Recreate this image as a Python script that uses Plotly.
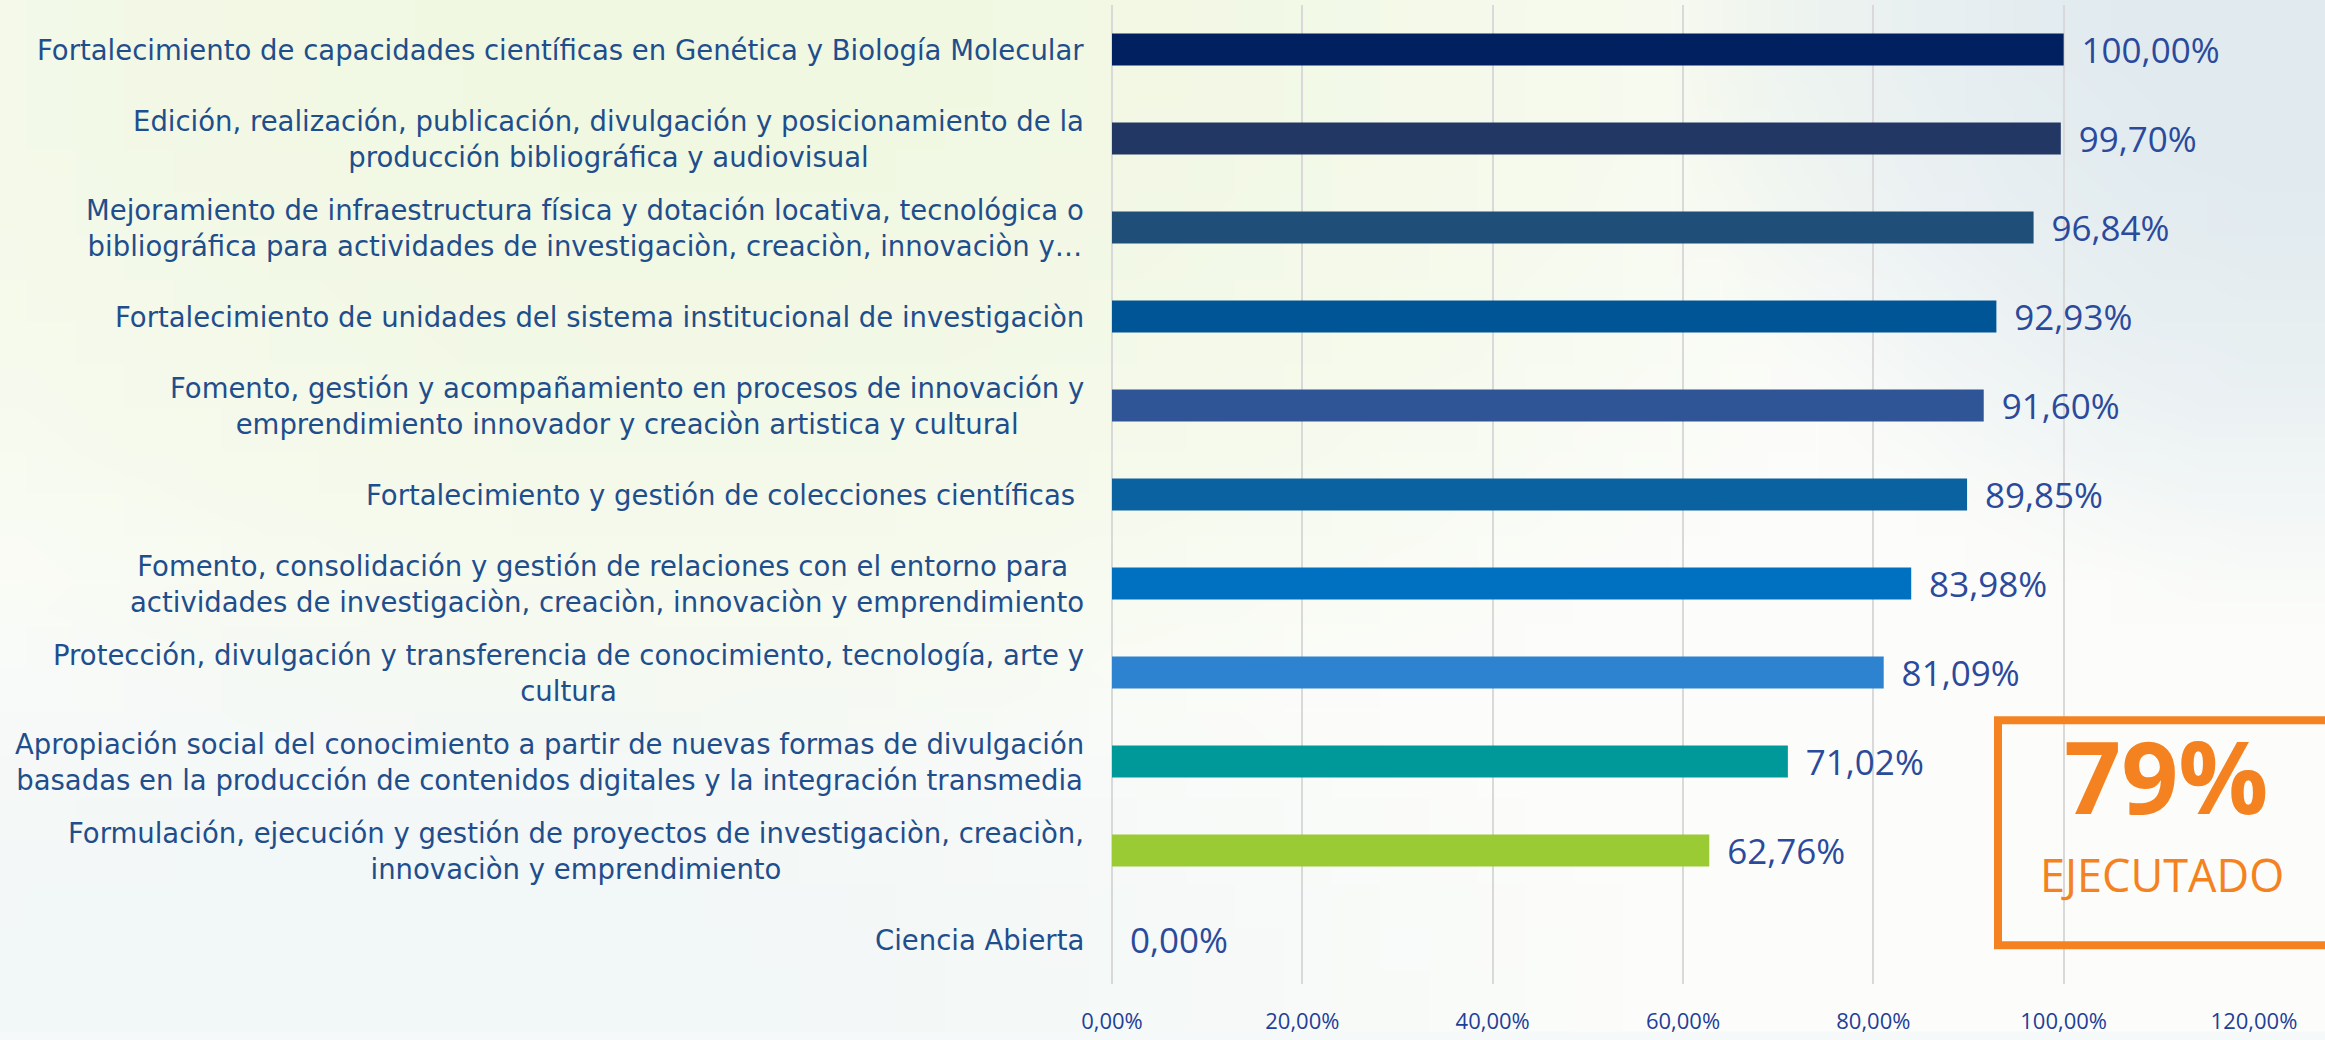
import base64, struct, zlib
import plotly.graph_objects as go

categories = [
    "Fortalecimiento de capacidades científicas en Genética y Biología Molecular",
    "Edición, realización, publicación, divulgación y posicionamiento de la<br>producción bibliográfica y audiovisual",
    "Mejoramiento de infraestructura física y dotación locativa, tecnológica o<br>bibliográfica para actividades de investigaciòn, creaciòn, innovaciòn y…",
    "Fortalecimiento de unidades del sistema institucional de investigaciòn",
    "Fomento, gestión y acompañamiento en procesos de innovación y<br>emprendimiento innovador y creaciòn artistica y cultural",
    "Fortalecimiento y gestión de colecciones científicas ",
    "Fomento, consolidación y gestión de relaciones con el entorno para <br>actividades de investigaciòn, creaciòn, innovaciòn y emprendimiento",
    "Protección, divulgación y transferencia de conocimiento, tecnología, arte y<br>cultura",
    "Apropiación social del conocimiento a partir de nuevas formas de divulgación<br>basadas en la producción de contenidos digitales y la integración transmedia",
    "Formulación, ejecución y gestión de proyectos de investigaciòn, creaciòn,<br>innovaciòn y emprendimiento",
    "Ciencia Abierta",
]
values = [1.0, 0.9970, 0.9684, 0.9293, 0.9160, 0.8985, 0.8398, 0.8109, 0.7102, 0.6276, 0.0]
bar_colors = ["#002060", "#223764", "#1F4E79", "#005596", "#2F5597", "#0B62A0",
              "#0070C0", "#2E83D0", "#009999", "#9ACA34", "#9ACA34"]
tick_vals = [0, 0.2, 0.4, 0.6, 0.8, 1.0, 1.2]
total_value = "79%"
total_label = "EJECUTADO"

W, H = 2325, 1040
ML, MR, MT, MB = 1112, 71, 5, 48
PW, PH = W - ML - MR, H - MT - MB


def px_x(p):
    return (p - ML) / PW


def px_y(p):
    return (MT + PH - p) / PH


def make_png(w, h, fn):
    raw = b""
    for j in range(h):
        row = bytearray([0])
        for i in range(w):
            row += bytes(fn(i / (w - 1), j / (h - 1)))
        raw += bytes(row)

    def chunk(t, d):
        c = struct.pack(">I", len(d)) + t + d
        return c + struct.pack(">I", zlib.crc32(t + d) & 0xffffffff)

    return (b"\x89PNG\r\n\x1a\n" + chunk(b"IHDR", struct.pack(">IIBBBBB", w, h, 8, 2, 0, 0, 0))
            + chunk(b"IDAT", zlib.compress(raw, 9)) + chunk(b"IEND", b""))


def bg(u, v):
    r, g, b = 252.0, 253.0, 250.0
    t = max(0.0, 1 - ((u - 0.3) ** 2 / 0.3 + v ** 2 / 0.6))
    r, g, b = r - 11 * t, g - 5 * t, b - 24 * t
    t2 = max(0.0, 1 - ((u - 1.0) ** 2 / 0.08 + v ** 2 / 0.35))
    r, g, b = r - 28 * t2, g - 19 * t2, b - 11 * t2
    t3 = max(0.0, 1 - ((u - 0.15) ** 2 / 0.3 + (v - 1) ** 2 / 0.2))
    r, g, b = r - 10 * t3, g - 6 * t3, b - 3 * t3
    return [int(max(0, min(255, c))) for c in (r, g, b)]


png = make_png(48, 24, bg)
src = "data:image/png;base64," + base64.b64encode(png).decode()

fig = go.Figure()
fig.add_trace(go.Bar(
    y=categories, x=values, orientation="h",
    marker=dict(color=bar_colors, line=dict(width=0)),
    width=0.357,
    text=values, texttemplate="\u00a0\u2009%{x:.2%}", textposition="outside",
    textfont=dict(family="Open Sans", size=35, color="#2B4A9C"),
    cliponaxis=False, constraintext="none", hoverinfo="skip",
))

for c in categories:
    fig.add_annotation(x=0, xref="paper", y=c, yref="y", xanchor="right", yanchor="middle",
                       xshift=-26, text=c, showarrow=False, align="center",
                       font=dict(family="DejaVu Sans", size=27.5, color="#1F4E8C"))

fig.add_shape(type="rect", xref="paper", yref="paper",
              x0=px_x(1998), x1=px_x(2345), y0=px_y(953), y1=px_y(726),
              line=dict(color="#F58220", width=8), fillcolor="rgba(0,0,0,0)")
fig.add_annotation(x=px_x(2166), y=px_y(781), xref="paper", yref="paper",
                   xanchor="center", yanchor="middle",
                   text="<b>" + total_value + "</b>", showarrow=False,
                   font=dict(family="Open Sans", size=100, color="#F58220"))
fig.add_annotation(x=px_x(2162), y=px_y(882), xref="paper", yref="paper",
                   xanchor="center", yanchor="middle",
                   text=total_label, showarrow=False,
                   font=dict(family="Open Sans", size=45, color="#F58220"))

fig.add_layout_image(dict(source=src, xref="paper", yref="paper",
                          x=-ML / PW, y=(PH + MT) / PH, sizex=W / PW, sizey=H / PH,
                          xanchor="left", yanchor="top", sizing="stretch", layer="below"))

fig.update_layout(
    width=W, height=H, margin=dict(l=ML, r=MR, t=MT, b=MB, pad=0),
    separators=",.",
    paper_bgcolor="#F6F9F9", plot_bgcolor="rgba(0,0,0,0)",
    showlegend=False,
    xaxis=dict(range=[0, 1.2], tickvals=tick_vals, tickformat=".2%",
               showgrid=True, gridcolor="#D9D9D9", gridwidth=2,
               zeroline=True, zerolinecolor="#D9D9D9", zerolinewidth=2,
               showline=False, ticks="", ticklabelstandoff=22,
               tickfont=dict(family="Open Sans", size=22, color="#1F3F99")),
    yaxis=dict(type="category", categoryorder="array", categoryarray=categories,
               autorange="reversed", showticklabels=False, showgrid=False,
               zeroline=False, showline=False),
)

fig.write_html("out.html", config={"displayModeBar": False},
               post_script="document.body.style.margin='0';document.body.style.overflow='hidden';")
